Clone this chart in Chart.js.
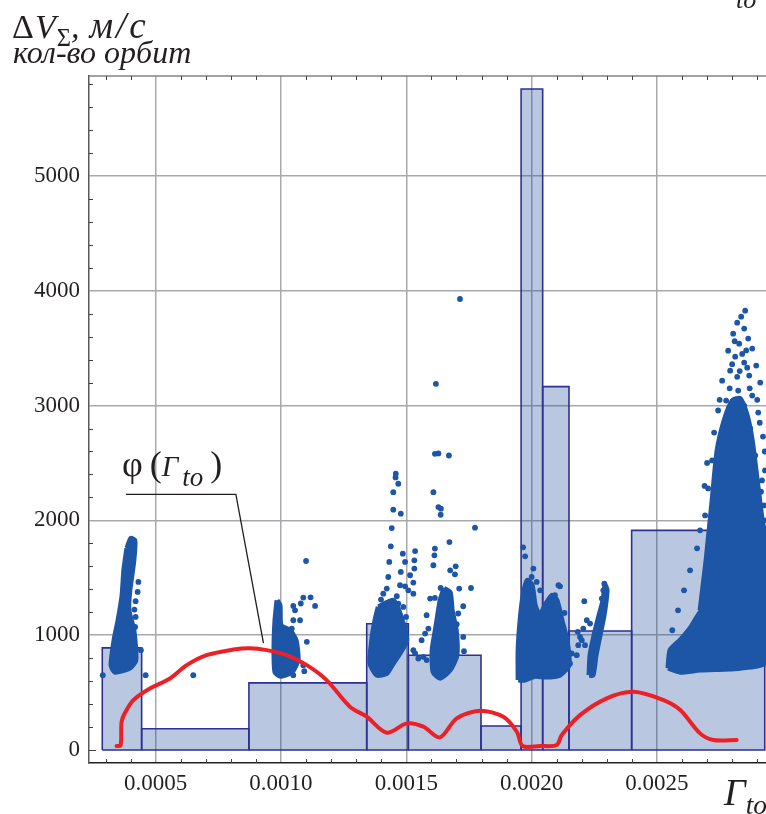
<!DOCTYPE html>
<html>
<head>
<meta charset="utf-8">
<script src="https://cdn.jsdelivr.net/npm/chart.js@4.4.1/dist/chart.umd.min.js"></script>
<style>
    html, body { margin: 0; padding: 0; background: #fff; }
    #wrap { position: relative; width: 766px; height: 814px; overflow: hidden;
            font-family: "Liberation Serif", "DejaVu Serif", serif; color: #231f20; }
    canvas { position: absolute; left: 0; top: 0; }
    .lbl { position: absolute; white-space: nowrap; line-height: 1; }
    .lbl i { font-style: italic; }
    .sub { font-size: 0.72em; position: relative; top: 0.32em; }
</style>
</head>
<body>
<div id="wrap">
    <canvas id="chart" width="766" height="814"></canvas>
    <div class="lbl" style="left:12px; top:7px; font-size:34px">&Delta;<i style="margin-left:1px">V</i><span class="sub" style="margin-left:1px">&Sigma;</span><i>,</i><i style="font-size:37px; letter-spacing:3px; margin-left:10px">м/с</i></div>
    <div class="lbl" style="left:13px; top:36px; font-size:32px"><i>кол-во орбит</i></div>
    <div class="lbl" style="left:736px; top:-13px; font-size:26px"><i>to</i></div>
    <div class="lbl" style="left:724px; top:773px; font-size:38px"><i>&Gamma;</i><span class="sub"><i>to</i></span></div>
    <div class="lbl" style="left:122px; top:446px; font-size:36px">&phi;<span style="margin-left:7px">(</span><i style="font-size:29px">&Gamma;</i><i style="font-size:27px; position:relative; top:10px; margin-left:4px">to</i><span style="margin-left:7px">)</span></div>
</div>
<script>
// histogram: bin edges along Γ_to and orbit counts per bin
const histEdges = [0.000287, 0.000444, 0.000872, 0.001342, 0.001508, 0.001798, 0.001958, 0.002044, 0.002149, 0.002399, 0.002930];
const histCounts = [890, 185, 585, 1100, 826, 209, 5757, 3165, 1037, 1913];

// red curve φ(Γ_to)
const phiX = [0.000344, 0.000360, 0.000364, 0.000377, 0.000411, 0.000477, 0.000557, 0.000624, 0.000703, 0.000810,
    0.000876, 0.000943, 0.001023, 0.001103, 0.001182, 0.001275, 0.001342, 0.001422, 0.001502, 0.001568,
    0.001634, 0.001701, 0.001794, 0.001887, 0.001941, 0.001964, 0.002034, 0.002100, 0.002120, 0.002193,
    0.002300, 0.002406, 0.002526, 0.002593, 0.002672, 0.002725, 0.002818];
const phiY = [35, 40, 246, 322, 435, 536, 623, 739, 826, 875,
    887, 870, 826, 739, 609, 377, 290, 150, 232, 203,
    110, 276, 342, 290, 159, 35, 35, 43, 130, 304,
    450, 507, 435, 348, 145, 87, 87];

// dense parts of the ΔV cloud, traced as outlines
const cloud1 = [[0.000385, 1757], [0.000401, 1843], [0.000417, 1826], [0.000413, 1652], [0.000397, 1391], [0.000393, 1217],
    [0.000413, 1043], [0.000421, 783], [0.000397, 713], [0.000337, 678], [0.000322, 739], [0.000334, 957],
    [0.000350, 1130], [0.000366, 1348], [0.000373, 1565], [0.000385, 1757]];
const cloud2 = [[0.000984, 1304], [0.000996, 1261], [0.001000, 1087], [0.001036, 1043], [0.001060, 957], [0.001068, 783],
    [0.001044, 678], [0.000996, 643], [0.000976, 678], [0.000972, 870], [0.000976, 1130], [0.000984, 1304]];
const cloud3a = [[0.001388, 1246], [0.001448, 1304], [0.001475, 1189], [0.001502, 957], [0.001475, 843], [0.001448, 754],
    [0.001422, 667], [0.001382, 652], [0.001355, 754], [0.001362, 957], [0.001375, 1130], [0.001388, 1246]];
const cloud3b = [[0.001650, 1409], [0.001675, 1374], [0.001683, 1217], [0.001699, 1043], [0.001702, 826], [0.001675, 696],
    [0.001635, 626], [0.001607, 678], [0.001603, 870], [0.001619, 1087], [0.001635, 1304], [0.001650, 1409]];
const cloud4a = [[0.001946, 609], [0.001946, 870], [0.001954, 1130], [0.001966, 1348], [0.001982, 1478], [0.002002, 1435],
    [0.002014, 1261], [0.002033, 1174], [0.002053, 1261], [0.002081, 1348], [0.002101, 1304], [0.002121, 1130],
    [0.002141, 957], [0.002149, 739], [0.002113, 652], [0.002053, 635], [0.002014, 643], [0.001974, 609], [0.001946, 609]];
const cloud4b = [[0.002229, 652], [0.002233, 826], [0.002249, 1000], [0.002269, 1174], [0.002285, 1304], [0.002293, 1435],
    [0.002301, 1391], [0.002289, 1174], [0.002273, 1000], [0.002257, 826], [0.002245, 652], [0.002229, 652]];
const cloud5a = [[0.002544, 713], [0.002552, 870], [0.002592, 957], [0.002632, 1061], [0.002672, 1200], [0.002720, 1304],
    [0.002760, 1478], [0.002812, 1652], [0.002864, 1696], [0.002904, 1652], [0.002935, 1565], [0.002935, 765],
    [0.002832, 713], [0.002672, 696], [0.002592, 678], [0.002544, 713]];
const cloud5b = [[0.002672, 1217], [0.002696, 1652], [0.002720, 2174], [0.002740, 2609], [0.002768, 2870],
    [0.002800, 3043], [0.002832, 3061], [0.002860, 2913], [0.002880, 2696], [0.002900, 2348], [0.002920, 2000],
    [0.002935, 1826], [0.002935, 1304], [0.002672, 1217]];

// single scattered orbits
const scatterPoints = [
    [0.000431, 1464], [0.000428, 1377], [0.000420, 1296], [0.000415, 1223], [0.000420, 1159], [0.000418, 1072],
    [0.000441, 870], [0.000289, 652], [0.000460, 652], [0.000650, 652],
    [0.001100, 1646], [0.001089, 1328], [0.001118, 1330], [0.001136, 1255], [0.001079, 1276], [0.001049, 1255],
    [0.001056, 1217], [0.001049, 1130], [0.001076, 1130], [0.001043, 1058], [0.001103, 942], [0.001089, 739],
    [0.001093, 687], [0.001049, 652], [0.001003, 652], [0.001016, 681],
    [0.001458, 2406], [0.001457, 2374], [0.001468, 2319], [0.001448, 2246], [0.001448, 2093], [0.001478, 2058],
    [0.001442, 1933], [0.001438, 1774], [0.001432, 1638], [0.001428, 1507], [0.001486, 1710], [0.001495, 1638],
    [0.001478, 1551], [0.001535, 1733], [0.001532, 1652], [0.001532, 1580], [0.001515, 1522], [0.001528, 1458],
    [0.001475, 1435], [0.001495, 1426], [0.001508, 1391], [0.001528, 1362], [0.001462, 1339], [0.001422, 1406],
    [0.001408, 1362], [0.001399, 1310], [0.001488, 1246], [0.001468, 1275], [0.001499, 1159], [0.001495, 1072],
    [0.001528, 870], [0.001535, 841], [0.001548, 797], [0.001568, 812], [0.001581, 783], [0.001561, 957],
    [0.001575, 1014], [0.001588, 1058], [0.001581, 1174], [0.001595, 1319], [0.001614, 1325],
    [0.001714, 3928], [0.001618, 3189], [0.001614, 2580], [0.001628, 2583], [0.001670, 2565], [0.001608, 2246],
    [0.001628, 2116], [0.001638, 2102], [0.001637, 2049], [0.001774, 1936], [0.001672, 1811], [0.001614, 1754],
    [0.001612, 1696], [0.001608, 1609], [0.001675, 1565], [0.001697, 1600], [0.001694, 1530], [0.001637, 1411],
    [0.001711, 1406], [0.001758, 1411], [0.001727, 1252], [0.001707, 1189], [0.001701, 1096], [0.001727, 985],
    [0.001730, 861],
    [0.002007, 1580], [0.002000, 1507], [0.002020, 1464], [0.001994, 1377], [0.002034, 1391], [0.002107, 1435],
    [0.002113, 1426], [0.002093, 1348], [0.002131, 1194], [0.002210, 1296], [0.002220, 1130], [0.002233, 1101],
    [0.002206, 1058], [0.002184, 1029], [0.002193, 985], [0.002200, 957], [0.002213, 913], [0.002186, 913],
    [0.002180, 826], [0.002160, 841], [0.002153, 754], [0.002290, 1449], [0.002286, 1391], [0.002280, 1319],
    [0.001966, 1765], [0.001974, 1687],
    [0.002852, 3826], [0.002836, 3774], [0.002820, 3722], [0.002848, 3670], [0.002804, 3626], [0.002864, 3583],
    [0.002828, 3539], [0.002784, 3478], [0.002880, 3496], [0.002812, 3426], [0.002848, 3374], [0.002896, 3348],
    [0.002792, 3304], [0.002868, 3261], [0.002760, 3217], [0.002912, 3200], [0.002824, 3130], [0.002880, 3087],
    [0.002776, 3043], [0.002848, 3000], [0.002744, 2957], [0.002904, 2939], [0.002804, 2870], [0.002872, 2800],
    [0.002728, 2765], [0.002923, 2730], [0.002832, 2652], [0.002768, 2609], [0.002892, 2565], [0.002720, 2522],
    [0.002860, 2452], [0.002792, 2391], [0.002919, 2348], [0.002704, 2278], [0.002896, 2217], [0.002748, 2174],
    [0.002927, 2130], [0.002692, 2043], [0.002876, 2000], [0.002672, 1913], [0.002912, 1870], [0.002660, 1757],
    [0.002632, 1565], [0.002608, 1391], [0.002584, 1217], [0.002561, 1043], [0.002931, 2435], [0.002931, 2000],
    [0.002840, 3450], [0.002860, 3330], [0.002800, 3360], [0.002820, 3250], [0.002870, 3150], [0.002790, 3150],
    [0.002830, 3300], [0.002856, 3480], [0.002810, 3560], [0.002900, 3050], [0.002750, 3050], [0.002910, 2850],
    [0.002700, 2500], [0.002690, 2300], [0.002930, 2600], [0.002915, 2250]
];

// axes
const xMin = 0.000234, xMax = 0.002935;
const yMin = -113, yMax = 5870;
const xMajorTicks = [0.0005, 0.0010, 0.0015, 0.0020, 0.0025];
const xTickLabels = ['0.0005', '0.0010', '0.0015', '0.0020', '0.0025'];
const xMinorTicks = [0.0003, 0.0004, 0.0006, 0.0007, 0.0008, 0.0009, 0.0011, 0.0012, 0.0013, 0.0014, 0.0016,
    0.0017, 0.0018, 0.0019, 0.0021, 0.0022, 0.0023, 0.0024, 0.0026, 0.0027, 0.0028, 0.0029];
const yMajorTicks = [0, 1000, 2000, 3000, 4000, 5000];
const yMinorTicks = [200, 400, 600, 800, 1200, 1400, 1600, 1800, 2200, 2400, 2600, 2800, 3200, 3400, 3600, 3800,
    4200, 4400, 4600, 4800, 5200, 5400, 5600, 5800];

// leader from the φ label to the curve (data coordinates)
const phiLeader = [[0.000381, 2226], [0.000820, 2226], [0.000930, 930]];

const BAR_FILL = 'rgba(22, 68, 152, 0.3)';
const BAR_EDGE = '#2e3192';
const DOT = '#1d56a6';
const RED = '#ec2027';
const GRID = '#a7a9ac';
const TICK_FONT = {family: '"Liberation Serif", "DejaVu Serif", serif', size: 23};

const toXY = pairs => pairs.map(([x, y]) => ({x, y}));

const barSets = histCounts.map((h, i) => ({
    data: [
        {x: histEdges[i], y: 0}, {x: histEdges[i], y: h},
        {x: histEdges[i + 1], y: h}, {x: histEdges[i + 1], y: 0}, {x: histEdges[i], y: 0}
    ],
    showLine: true,
    fill: 'shape',
    backgroundColor: BAR_FILL,
    borderColor: BAR_EDGE,
    borderWidth: 1.6,
    pointRadius: 0,
    tension: 0,
    order: 4
}));

const cloudSets = [cloud1, cloud2, cloud3a, cloud3b, cloud4a, cloud4b, cloud5a, cloud5b].map(c => ({
    data: toXY(c),
    showLine: true,
    fill: 'shape',
    backgroundColor: DOT,
    borderColor: DOT,
    borderWidth: 5,
    borderJoinStyle: 'round',
    pointRadius: 0,
    tension: 0.2,
    order: 2
}));

const dotSet = {
    data: toXY(scatterPoints),
    showLine: false,
    pointRadius: 2.9,
    pointBorderWidth: 0,
    pointBackgroundColor: DOT,
    order: 1
};

const phiSet = {
    data: phiX.map((x, i) => ({x, y: phiY[i]})),
    showLine: true,
    fill: false,
    borderColor: RED,
    borderWidth: 4,
    borderCapStyle: 'round',
    borderJoinStyle: 'round',
    pointRadius: 0,
    tension: 0.3,
    order: 0
};

const framePlugin = {
    id: 'frame',
    afterDraw(chart) {
        const {ctx, chartArea: a, scales: {x, y}} = chart;
        ctx.save();
        ctx.strokeStyle = '#808285';
        ctx.lineWidth = 1.3;
        ctx.beginPath();
        ctx.moveTo(a.left, a.top);
        ctx.lineTo(a.right, a.top);
        ctx.stroke();

        ctx.strokeStyle = '#414042';
        ctx.lineWidth = 1;
        ctx.beginPath();
        xMinorTicks.forEach(v => {
            const px = Math.round(x.getPixelForValue(v)) + 0.5;
            ctx.moveTo(px, a.bottom);
            ctx.lineTo(px, a.bottom - 4);
            ctx.moveTo(px, a.top);
            ctx.lineTo(px, a.top + 4);
        });
        yMinorTicks.forEach(v => {
            const py = Math.round(y.getPixelForValue(v)) + 0.5;
            ctx.moveTo(a.left, py);
            ctx.lineTo(a.left + 4, py);
        });
        const p0 = Math.round(y.getPixelForValue(0)) + 0.5;
        ctx.moveTo(a.left, p0);
        ctx.lineTo(a.left + 7, p0);
        ctx.stroke();

        ctx.strokeStyle = '#231f20';
        ctx.lineWidth = 1.3;
        ctx.beginPath();
        phiLeader.forEach(([vx, vy], i) => {
            const px = x.getPixelForValue(vx), py = y.getPixelForValue(vy);
            if (i === 0) ctx.moveTo(px, py); else ctx.lineTo(px, py);
        });
        ctx.stroke();
        ctx.restore();
    }
};

const noPad = s => { s.paddingLeft = 0; s.paddingRight = 0; s.paddingTop = 0; s.paddingBottom = 0; };

new Chart(document.getElementById('chart').getContext('2d'), {
    type: 'scatter',
    data: {datasets: [phiSet, dotSet, ...cloudSets, ...barSets]},
    options: {
        responsive: false,
        animation: false,
        layout: {autoPadding: false, padding: {top: 76, right: 0, bottom: 0, left: 0}},
        plugins: {legend: {display: false}, tooltip: {enabled: false}},
        scales: {
            x: {
                type: 'linear',
                min: xMin,
                max: xMax,
                afterBuildTicks: s => { s.ticks = xMajorTicks.map(v => ({value: v})); },
                afterFit: s => { s.height = 51; noPad(s); },
                ticks: {
                    callback: (v, i) => xTickLabels[i],
                    font: TICK_FONT,
                    color: '#231f20',
                    padding: 7,
                    maxRotation: 0,
                    autoSkip: false
                },
                grid: {color: GRID, lineWidth: 1.5, drawTicks: false},
                border: {color: '#231f20', width: 1.5}
            },
            y: {
                type: 'linear',
                min: yMin,
                max: yMax,
                afterBuildTicks: s => { s.ticks = yMajorTicks.map(v => ({value: v})); },
                afterFit: s => { s.width = 89; noPad(s); },
                ticks: {
                    callback: v => String(v),
                    font: TICK_FONT,
                    color: '#231f20',
                    padding: 9,
                    autoSkip: false
                },
                grid: {
                    color: c => (c.tick && c.tick.value === 0 ? 'rgba(0,0,0,0)' : GRID),
                    lineWidth: 1.5,
                    drawTicks: false
                },
                border: {color: '#58595b', width: 1.5}
            }
        }
    },
    plugins: [framePlugin]
});
</script>
</body>
</html>
